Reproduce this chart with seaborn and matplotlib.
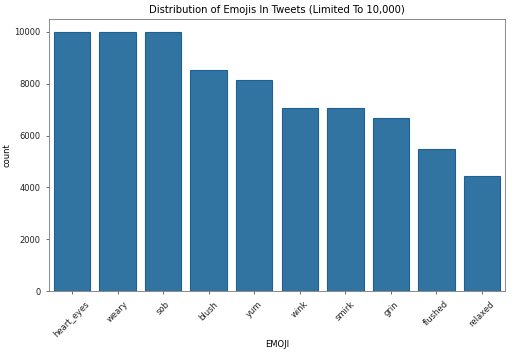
import matplotlib
matplotlib.use("Agg")
import matplotlib.pyplot as plt
import seaborn as sns
import pandas as pd

emojis = ["heart_eyes", "weary", "sob", "blush", "yum", "wink", "smirk", "grin", "flushed", "relaxed"]
counts = [10000, 10000, 10000, 8530, 8150, 7080, 7050, 6680, 5480, 4440]

df = pd.DataFrame({"EMOJI": emojis, "count": counts})

fig, ax = plt.subplots(figsize=(5.12, 3.52), dpi=100)
fig.subplots_adjust(left=0.096, right=0.986, top=0.946, bottom=0.173)
sns.barplot(data=df, x="EMOJI", y="count", color="#3274a1", edgecolor="#1f5f94",
            linewidth=0.8, saturation=1, ax=ax)
ax.set_title("Distribution of Emojis In Tweets (Limited To 10,000)", fontsize=7.2, pad=4)
ax.set_xlabel("EMOJI", fontsize=6, labelpad=1)
ax.set_ylabel("count", fontsize=6, labelpad=2)
ax.tick_params(axis="both", labelsize=6, length=2.5, width=0.6, color="#555555", labelcolor="#222222")
plt.setp(ax.get_xticklabels(), rotation=45)
for s in ax.spines.values():
    s.set_linewidth(0.6)
    s.set_color("#777777")
fig.savefig("out.png", dpi=100)
